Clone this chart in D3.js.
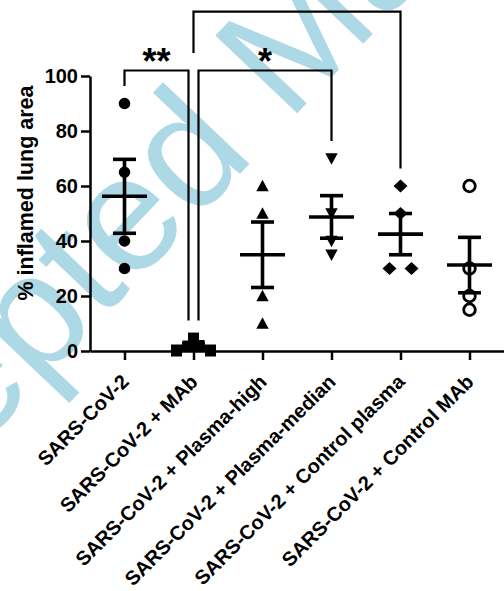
<!DOCTYPE html>
<html>
<head>
<meta charset="utf-8">
<script src="https://cdn.jsdelivr.net/npm/d3@7"></script>
<style>
  html, body { margin: 0; padding: 0; background: #fff; }
  svg { display: block; font-family: "Liberation Sans", Arial, sans-serif; }
</style>
</head>
<body>
<svg id="chart"></svg>
<script>
const groups = [
  'SARS-CoV-2',
  'SARS-CoV-2 + MAb',
  'SARS-CoV-2 + Plasma-high',
  'SARS-CoV-2 + Plasma-median',
  'SARS-CoV-2 + Control plasma',
  'SARS-CoV-2 + Control MAb'
];
const sarsCov2 = [90, 65, 40, 30];
const withMab = [0, 1.8, 2, 0, 4.7];
const plasmaHigh = [60, 50, 20, 10];
const plasmaMedian = [70, 50, 40, 35];
const controlPlasma = [60, 50, 30, 30];
const controlMab = [60, 30, 20, 15];
const groupValues = [sarsCov2, withMab, plasmaHigh, plasmaMedian, controlPlasma, controlMab];
const markers = ['circle', 'square', 'triangleUp', 'triangleDown', 'diamond', 'openCircle'];
const yTicks = [0, 20, 40, 60, 80, 100];
// significance brackets: group indexes and the height of the bar (in % units)
const comparisons = [
  { from: 0, to: 1, level: 102, label: '**' },
  { from: 1, to: 3, level: 102, label: '*' },
  { from: 1, to: 4, level: 123.4, label: '' }
];
const watermark = 'Accepted Manuscript';

const W = 504, H = 591;
const margin = { top: 76, right: 0, bottom: 240, left: 90 };

const svg = d3.select('#chart').attr('width', W).attr('height', H);
svg.append('rect').attr('width', W).attr('height', H).attr('fill', '#fff');

// watermark sits underneath the chart
svg.append('text')
  .attr('transform', 'translate(-214,652) rotate(-46.5)')
  .attr('fill', '#add8e6')
  .style('font-size', '164px')
  .style('font-family', '"Liberation Sans", Arial, sans-serif')
  .text(watermark);

const x = d3.scalePoint()
  .domain(groups)
  .range([margin.left, W - margin.right])
  .padding(0.5);

const y = d3.scaleLinear()
  .domain([0, 100])
  .range([H - margin.bottom, margin.top]);

// y axis
const yAxis = svg.append('g')
  .attr('transform', `translate(${margin.left},0)`)
  .call(d3.axisLeft(y).tickValues(yTicks).tickSize(9).tickSizeOuter(0).tickPadding(3));
yAxis.select('.domain').attr('stroke-width', 2.5);
yAxis.selectAll('.tick line').attr('stroke-width', 2.5);
yAxis.selectAll('.tick text')
  .attr('fill', '#000')
  .style('font-size', '20px')
  .style('font-weight', 'bold')
  .style('font-family', '"Liberation Sans", Arial, sans-serif');

// x axis
const xAxis = svg.append('g')
  .attr('transform', `translate(0,${y(0)})`)
  .call(d3.axisBottom(x).tickSize(9).tickSizeOuter(0));
xAxis.select('.domain').attr('stroke-width', 2.5);
xAxis.selectAll('.tick line').attr('stroke-width', 2.5);
xAxis.selectAll('.tick text')
  .attr('x', 0).attr('y', 0).attr('dy', 0)
  .attr('text-anchor', 'end')
  .attr('transform', 'translate(5,32) rotate(-45)')
  .attr('fill', '#000')
  .style('font-size', '20px')
  .style('font-weight', 'bold')
  .style('font-family', '"Liberation Sans", Arial, sans-serif');

// y axis title
svg.append('text')
  .attr('transform', `translate(33,${(86 + 300) / 2}) rotate(-90)`)
  .attr('text-anchor', 'middle')
  .style('font-size', '21.5px')
  .style('font-weight', 'bold')
  .text('% inflamed lung area');

// marker shapes
function markerPath(kind) {
  switch (kind) {
    case 'square': return 'M-5.5,-5.5H5.5V5.5H-5.5Z';
    case 'triangleUp': return 'M0,-6.2L6.2,5.2H-6.2Z';
    case 'triangleDown': return 'M0,6.2L6.2,-5.2H-6.2Z';
    case 'diamond': return 'M0,-6.5L7,0L0,6.5L-7,0Z';
    default: return d3.symbol(d3.symbolCircle, Math.PI * 5.8 * 5.8)();
  }
}

// spread points that would overlap side by side, like a column scatter
function spread(values) {
  const order = values.map((v, i) => i).sort((a, b) => values[a] - values[b]);
  const rows = [];
  order.forEach(i => {
    const row = rows[rows.length - 1];
    if (row && y(values[row[0]]) - y(values[i]) < 11) row.push(i);
    else rows.push([i]);
  });
  const off = values.map(() => 0);
  rows.forEach(row => {
    row.sort((a, b) => a - b);
    const n = row.length;
    if (n < 2) return;
    const width = Math.min(34, 22 * (n - 1));
    row.forEach((i, k) => { off[i] = (k / (n - 1) - 0.5) * width; });
  });
  return off;
}

const pts = svg.append('g');
groupValues.forEach((vals, gi) => {
  const off = spread(vals);
  const kind = markers[gi];
  pts.selectAll(null)
    .data(vals)
    .enter().append('path')
    .attr('d', markerPath(kind === 'openCircle' ? 'circle' : kind))
    .attr('transform', (d, i) => `translate(${x(groups[gi]) + off[i]},${y(d)})`)
    .attr('fill', kind === 'openCircle' ? 'none' : '#000')
    .attr('stroke', kind === 'openCircle' ? '#000' : 'none')
    .attr('stroke-width', 2.8);
});

// mean +/- SEM
const stats = groupValues.map((vals, gi) => {
  const m = d3.mean(vals);
  const sem = d3.deviation(vals) / Math.sqrt(vals.length);
  return { g: groups[gi], mean: m, lo: m - sem, hi: m + sem };
});
const bars = svg.append('g').attr('stroke', '#000').attr('stroke-width', 3.6);
stats.forEach(s => {
  const cx = x(s.g);
  bars.append('line').attr('x1', cx).attr('x2', cx).attr('y1', y(s.lo)).attr('y2', y(s.hi));
  bars.append('line').attr('x1', cx - 22.5).attr('x2', cx + 22.5).attr('y1', y(s.mean)).attr('y2', y(s.mean));
  [s.lo, s.hi].forEach(v => {
    bars.append('line').attr('x1', cx - 11.5).attr('x2', cx + 11.5).attr('y1', y(v)).attr('y2', y(v));
  });
});

// significance brackets
const gap = 6.4;
function legEnd(c, idx) {
  const me = comparisons[c];
  let top = d3.max(groupValues[idx]);
  comparisons.forEach((o, j) => {
    if (j !== c && o.level < me.level && o.from <= idx && o.to >= idx) top = Math.max(top, o.level);
  });
  return top + gap;
}
function legShift(c, idx, side) {
  const me = comparisons[c];
  const shared = comparisons.some((o, j) => j !== c && o.level === me.level &&
    (o.from === idx || o.to === idx));
  return shared ? (side === 'from' ? 5 : -5) : 0;
}
const brk = svg.append('g');
comparisons.forEach((c, ci) => {
  const x1 = x(groups[c.from]) + legShift(ci, c.from, 'from');
  const x2 = x(groups[c.to]) + legShift(ci, c.to, 'to');
  const yl = y(c.level);
  brk.append('path')
    .attr('d', `M${x1},${y(legEnd(ci, c.from))}V${yl}H${x2}V${y(legEnd(ci, c.to))}`)
    .attr('fill', 'none')
    .attr('stroke', '#000')
    .attr('stroke-width', 2.2);
  if (c.label) {
    brk.append('text')
      .attr('x', (x1 + x2) / 2)
      .attr('y', yl + 3)
      .attr('text-anchor', 'middle')
      .style('font-size', '36px')
      .style('font-weight', 'bold')
      .text(c.label);
  }
});
</script>
</body>
</html>
